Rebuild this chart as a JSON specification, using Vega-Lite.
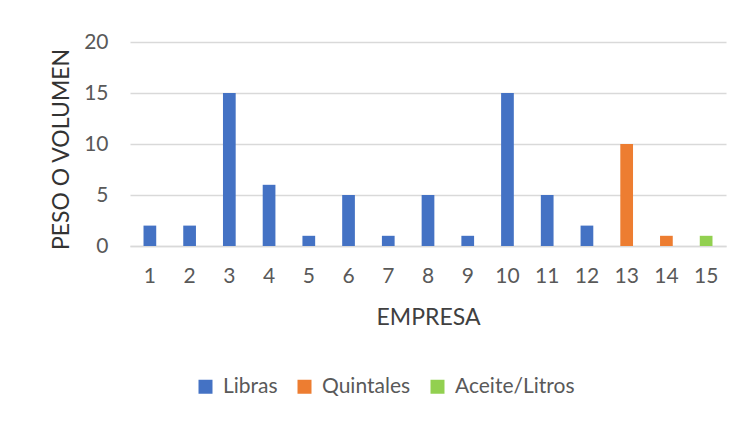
{
  "$schema": "https://vega.github.io/schema/vega-lite/v6.json",
  "autosize": {"type": "none"},
  "padding": {"left": 130, "top": 42, "right": 20, "bottom": 175},
  "width": 596,
  "height": 204,
  "background": "white",
  "data": {"values": [
    {"empresa": 1, "valor": 2, "tipo": "Libras"},
    {"empresa": 2, "valor": 2, "tipo": "Libras"},
    {"empresa": 3, "valor": 15, "tipo": "Libras"},
    {"empresa": 4, "valor": 6, "tipo": "Libras"},
    {"empresa": 5, "valor": 1, "tipo": "Libras"},
    {"empresa": 6, "valor": 5, "tipo": "Libras"},
    {"empresa": 7, "valor": 1, "tipo": "Libras"},
    {"empresa": 8, "valor": 5, "tipo": "Libras"},
    {"empresa": 9, "valor": 1, "tipo": "Libras"},
    {"empresa": 10, "valor": 15, "tipo": "Libras"},
    {"empresa": 11, "valor": 5, "tipo": "Libras"},
    {"empresa": 12, "valor": 2, "tipo": "Libras"},
    {"empresa": 13, "valor": 10, "tipo": "Quintales"},
    {"empresa": 14, "valor": 1, "tipo": "Quintales"},
    {"empresa": 15, "valor": 1, "tipo": "Aceite/Litros"}
  ]},
  "mark": {"type": "bar"},
  "encoding": {
    "x": {
      "field": "empresa", "type": "ordinal",
      "scale": {"paddingInner": 0.68, "paddingOuter": 0.34},
      "axis": {
        "title": "EMPRESA", "labelAngle": 0, "domain": true, "domainColor": "#d9d9d9", "domainWidth": 1.5,
        "ticks": false, "labelPadding": 19, "labelFontSize": 21, "labelColor": "#595959",
        "labelFont": "Lato", "titleFont": "Lato",
        "titleFontSize": 23, "titleFontWeight": "normal", "titleColor": "#404040",
        "titleBaseline": "alphabetic", "titleY": 78
      }
    },
    "y": {
      "field": "valor", "type": "quantitative",
      "scale": {"domain": [0, 20]},
      "axis": {
        "title": "PESO O VOLUMEN", "values": [0, 5, 10, 15, 20], "domain": false, "ticks": false,
        "gridColor": "#d9d9d9", "gridWidth": 1.5, "labelPadding": 22, "labelFontSize": 21, "labelColor": "#595959",
        "labelFont": "Lato", "titleFont": "Lato",
        "titleFontSize": 23, "titleFontWeight": "normal", "titleColor": "#333333",
        "titleBaseline": "alphabetic", "titleX": -62, "titleY": 107
      }
    },
    "color": {
      "field": "tipo", "type": "nominal",
      "scale": {"domain": ["Libras", "Quintales", "Aceite/Litros"], "range": ["#4472C4", "#ED7D31", "#92D050"]},
      "legend": {
        "title": null, "orient": "none", "direction": "horizontal", "legendX": 65, "legendY": 334,
        "symbolType": "square", "symbolSize": 196, "symbolStrokeWidth": 0, "labelFontSize": 21,
        "labelFont": "Lato", "labelColor": "#595959", "columnPadding": 16, "labelOffset": 7
      }
    }
  },
  "config": {"view": {"stroke": null}}
}
